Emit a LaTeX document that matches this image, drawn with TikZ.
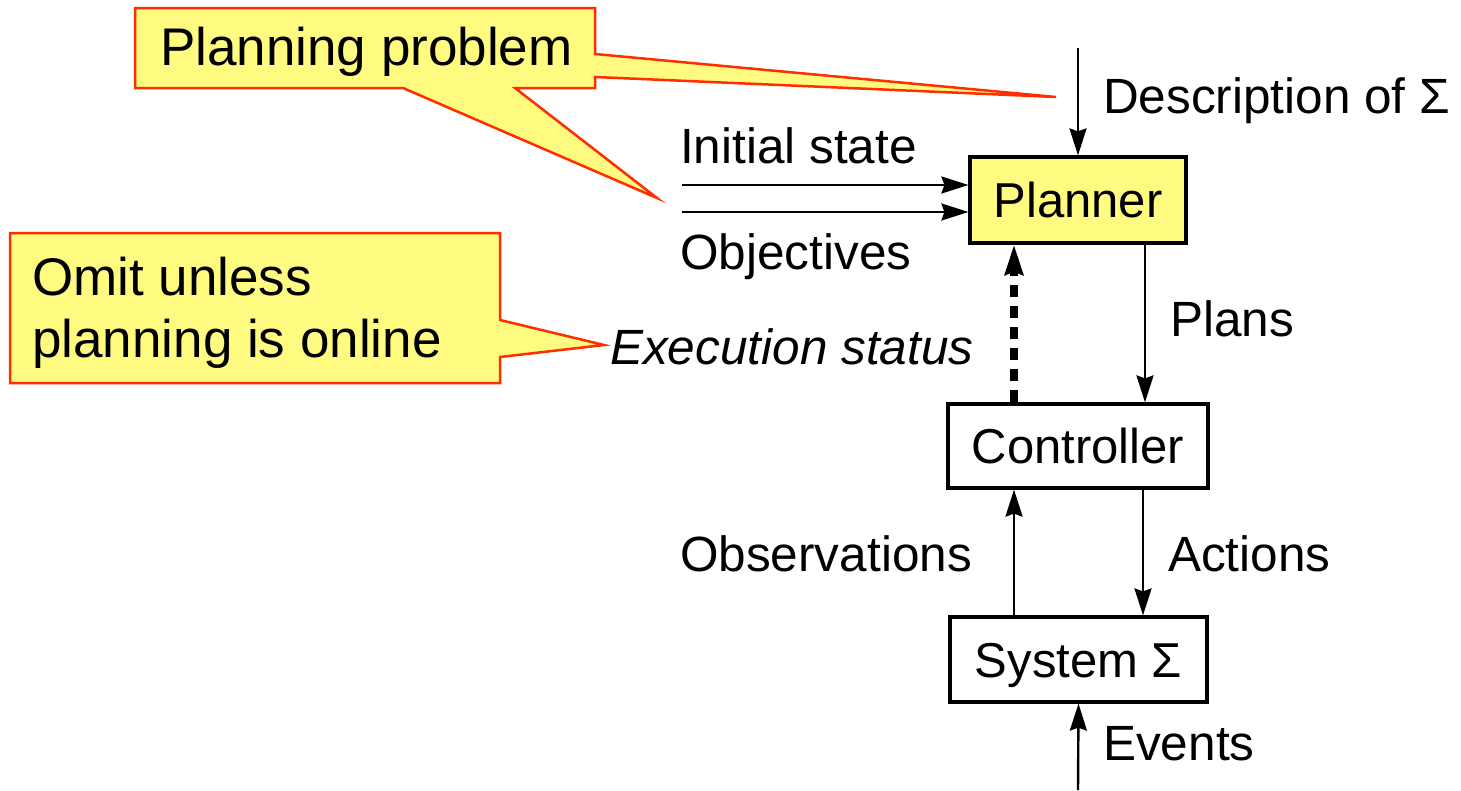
\documentclass[tikz,border=0pt]{standalone}
\usepackage{fontspec}
\setmainfont{Liberation Sans}
\usetikzlibrary{arrows.meta}
\definecolor{yelfill}{RGB}{255,250,128}
\definecolor{calred}{RGB}{255,45,0}
\begin{document}
\begin{tikzpicture}[x=1pt,y=-1pt,
  lbl/.style={anchor=base west,inner sep=0pt,font=\fontsize{49.5}{56}\selectfont},
  box/.style={draw,line width=3.2pt,inner sep=0pt,text height=35pt,text depth=0pt,font=\fontsize{49}{56}\selectfont},
  arr/.style={line width=2.4pt,-{Stealth[length=27pt,width=17pt,inset=3pt]}},
  darr/.style={line width=7.5pt,dash pattern=on 12pt off 9pt,-{Stealth[length=30pt,width=18pt,inset=3pt]}},
  callout/.style={fill=yelfill,draw=calred,line width=2.5pt,line join=miter},
  ctext/.style={anchor=base west,inner sep=0pt,align=left,font=\fontsize{53}{62}\selectfont}]
\useasboundingbox (0,0) rectangle (1461,790);
% callouts
\draw[callout] (135,8) -- (595,8) -- (595,54) -- (1056,97) -- (595,77) -- (595,88)
  -- (515,88) -- (657,198) -- (403,88) -- (135,88) -- cycle;
\node[ctext] (pp) at (160,65) {Planning problem};
\draw[callout] (10,233) -- (500,233) -- (500,320) -- (604,345) -- (500,357) -- (500,383)
  -- (10,383) -- cycle;
\node[ctext] (omit) at (32,357) {Omit unless\\planning is online};
% boxes
\node[box,fill=yelfill,minimum width=216pt,minimum height=86pt] (planner) at (1078,200) {Planner};
\node[box,minimum width=260pt,minimum height=84pt] (controller) at (1078,446) {Controller};
\node[box,minimum width=257pt,minimum height=85pt] (system) at (1078.5,659.5) {System Σ};
% coordinates
\coordinate (dtop) at (1078,48);
\coordinate (istart) at (682,185);
\coordinate (ostart) at (682,212);
\coordinate (xleft) at (1014,0);
\coordinate (xplan) at (1145,0);
\coordinate (xact) at (1143,0);
\coordinate (ebot) at (1078,790);
% arrows
\draw[arr] (dtop) -- (planner.north);
\draw[arr] (istart) -- (istart -| planner.west);
\draw[arr] (ostart) -- (ostart -| planner.west);
\draw[arr] (xplan |- planner.south) -- (xplan |- controller.north);
\draw[darr] (xleft |- controller.north) -- (xleft |- planner.south);
\draw[arr] (xleft |- system.north) -- (xleft |- controller.south);
\draw[arr] (xact |- controller.south) -- (xact |- system.north);
\draw[arr] (ebot) -- (system.south);
% labels
\node[lbl] (ldesc) at (1103,113) {Description of Σ};
\node[lbl] (linit) at (680,163) {Initial state};
\node[lbl] (lobj) at (680,269) {Objectives};
\node[lbl] (lplans) at (1170,336) {Plans};
\node[lbl,font=\fontsize{49.5}{56}\selectfont\itshape] (lexec) at (610,364) {Execution status};
\node[lbl] (lobs) at (680,571) {Observations};
\node[lbl] (lact) at (1168,571) {Actions};
\node[lbl] (lev) at (1103,760) {Events};
\end{tikzpicture}
\end{document}
